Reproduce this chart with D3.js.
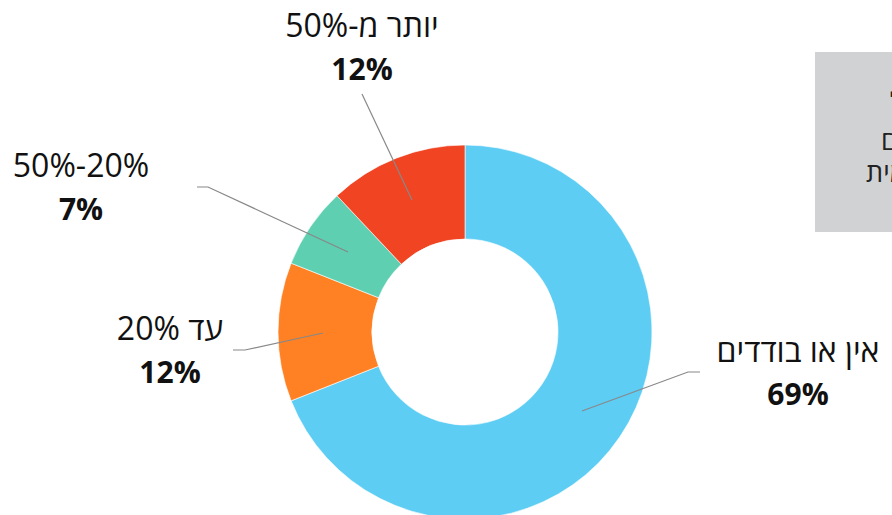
<!DOCTYPE html>
<html><head><meta charset="utf-8">
<script src="https://cdn.jsdelivr.net/npm/d3@7"></script>
<style>html,body{margin:0;padding:0;background:#fff;overflow:hidden}</style>
</head><body><svg id="c" width="892" height="515"></svg>
<script>
const categories = ["אין או בודדים", "עד 20%", "50%-20%", "יותר מ-50%"];
const values = [69, 12, 7, 12];
const valueLabels = ["69%", "12%", "7%", "12%"];
const colors = ["#5ECDF4", "#FF8124", "#5ECFB1", "#F04423"];
const boxLines = ["התפלגות הרשויות לפי כלל", "לפי שיעור העובדים", "בתעשייה המקומית"];

const svg = d3.select("#c");
const font = "'Open Sans', 'DejaVu Sans', sans-serif";
const cx = 465, cy = 332, R = 187, r = 93;

// gray box
svg.append("rect").attr("x", 815).attr("y", 52).attr("width", 200).attr("height", 180).attr("fill", "#D1D2D4");
const boxX = [890, 881, 866], boxY = [112, 150, 182];
boxLines.forEach((t, i) => {
  svg.append("text").attr("x", boxX[i]).attr("y", boxY[i]).attr("font-family", font)
    .attr("font-size", 27).attr("fill", "#222").attr("text-anchor", "start").text(t);
});

const pie = d3.pie().sort(null).value(d => d)(values);
const arc = d3.arc().innerRadius(r).outerRadius(R);
const g = svg.append("g").attr("transform", `translate(${cx},${cy})`);
g.selectAll("path").data(pie).join("path").attr("d", arc)
  .attr("fill", (d, i) => colors[i]).attr("stroke", "#fff").attr("stroke-width", 0.6);

const labelPos = [
  {x: 798, y: 362, line: [[582, 411], [688, 372], [700, 372]]},
  {x: 170, y: 340, line: [[323, 333], [245, 350], [233, 350]]},
  {x: 81, y: 177, line: [[348, 252], [208, 187], [197, 187]]},
  {x: 362, y: 37, line: [[412, 200], [362, 94]]}
];
const lineGen = d3.line();
labelPos.forEach((p, i) => {
  svg.append("path").attr("d", lineGen(p.line)).attr("fill", "none")
    .attr("stroke", "#888").attr("stroke-width", 1.2);
  svg.append("text").attr("x", p.x).attr("y", p.y).attr("text-anchor", "middle")
    .attr("font-family", font).attr("font-size", 32).attr("fill", "#111").text(categories[i]);
  svg.append("text").attr("x", p.x).attr("y", p.y + 43).attr("text-anchor", "middle")
    .attr("font-family", font).attr("font-size", 30).attr("font-weight", "bold").attr("fill", "#111").text(valueLabels[i]);
});
</script></body></html>
